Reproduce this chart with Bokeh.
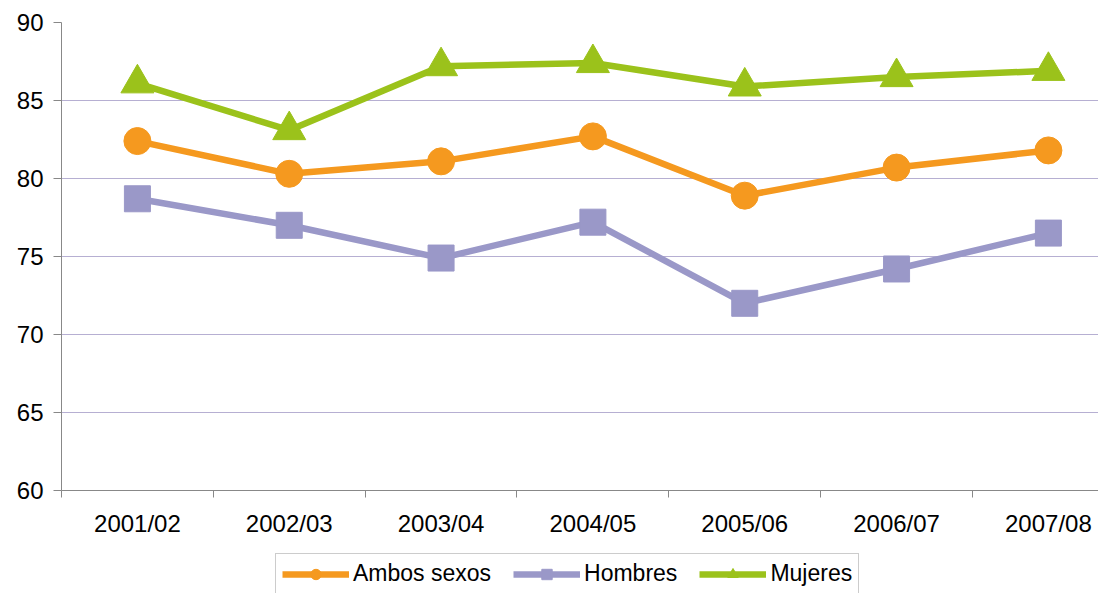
from bokeh.plotting import figure
from bokeh.layouts import column
from bokeh.models import Range1d, FixedTicker, Legend, LegendItem
from bokeh.embed import file_html
from bokeh.resources import INLINE

categories = ["2001/02", "2002/03", "2003/04", "2004/05", "2005/06", "2006/07", "2007/08"]
ambos = [82.4, 80.3, 81.1, 82.7, 78.9, 80.7, 81.8]
hombres = [78.7, 77.0, 74.9, 77.2, 72.0, 74.2, 76.5]
mujeres = [86.1, 83.1, 87.2, 87.4, 85.9, 86.5, 86.9]
y_ticks = [60, 65, 70, 75, 80, 85, 90]

series_names = ["Ambos sexos", "Hombres", "Mujeres"]
colors = ["#F5991F", "#9A98C8", "#9BC21B"]
markers = ["circle", "square", "triangle"]
sizes = [27, 26, 33]

xs = list(range(len(categories)))
font = "Liberation Sans"
series_values = [ambos, hombres, mujeres]

p = figure(width=1098, height=548, output_backend="svg", toolbar_location=None,
           x_range=Range1d(-0.5, 6.33), y_range=Range1d(60, 90),
           min_border_left=61, min_border_right=0, min_border_top=22, min_border_bottom=58)
p.outline_line_color = None
p.background_fill_color = "white"
p.border_fill_color = "white"

# x axis
p.xaxis.ticker = FixedTicker(ticks=xs, minor_ticks=[i - 0.5 for i in range(len(categories) + 1)])
p.xaxis.major_label_overrides = {i: c for i, c in enumerate(categories)}
p.xaxis.major_tick_out = 0
p.xaxis.major_tick_in = 0
p.xaxis.minor_tick_out = 7
p.xaxis.minor_tick_in = 0
p.xaxis.minor_tick_line_color = "#888888"
p.xaxis.axis_line_color = "#888888"
p.xaxis.major_label_text_font = font
p.xaxis.major_label_text_font_size = "24px"
p.xaxis.major_label_text_color = "black"
p.xaxis.major_label_standoff = 12
p.xgrid.grid_line_color = None

# y axis
p.yaxis.ticker = FixedTicker(ticks=y_ticks, minor_ticks=[])
p.yaxis.major_tick_out = 8
p.yaxis.major_tick_in = 0
p.yaxis.major_tick_line_color = "#888888"
p.yaxis.axis_line_color = "#888888"
p.yaxis.major_label_text_font = font
p.yaxis.major_label_text_font_size = "24px"
p.yaxis.major_label_text_color = "black"
p.yaxis.major_label_standoff = 10
p.ygrid.grid_line_color = "#B6AFD2"
p.ygrid.grid_line_width = 1

for name, vals, col, mk, sz in zip(series_names, series_values, colors, markers, sizes):
    p.line(xs, vals, line_color=col, line_width=6.5)
    p.scatter(xs, vals, marker=mk, size=sz, fill_color=col, line_color=col, line_width=1)

# legend strip below the chart (its series lie outside this strip's view)
lg = figure(width=1098, height=45, output_backend="svg", toolbar_location=None,
            x_range=Range1d(0, 1), y_range=Range1d(0, 1),
            x_axis_location=None, y_axis_location=None,
            min_border_left=61, min_border_right=0, min_border_top=0, min_border_bottom=0)
lg.outline_line_color = None
lg.xgrid.grid_line_color = None
lg.ygrid.grid_line_color = None
lg.background_fill_color = "white"
lg.border_fill_color = "white"

items = []
for name, vals, col, mk in zip(series_names, series_values, colors, markers):
    lr = lg.line(xs, vals, line_color=col, line_width=6.5)
    sr = lg.scatter(xs, vals, marker=mk, size=12, fill_color=col, line_color=col)
    items.append(LegendItem(label=name, renderers=[lr, sr]))

legend = Legend(items=items, orientation="horizontal", location=(214, -1),
                glyph_width=67, glyph_height=26, label_standoff=4, spacing=22,
                padding=6, margin=0,
                label_text_font=font, label_text_font_size="23px", label_text_color="black",
                border_line_color="#9A9A9A", border_line_width=1,
                background_fill_color="white", background_fill_alpha=1)
lg.add_layout(legend, "center")

layout = column(p, lg, spacing=0)
open("out.html", "w").write(file_html(layout, INLINE))
